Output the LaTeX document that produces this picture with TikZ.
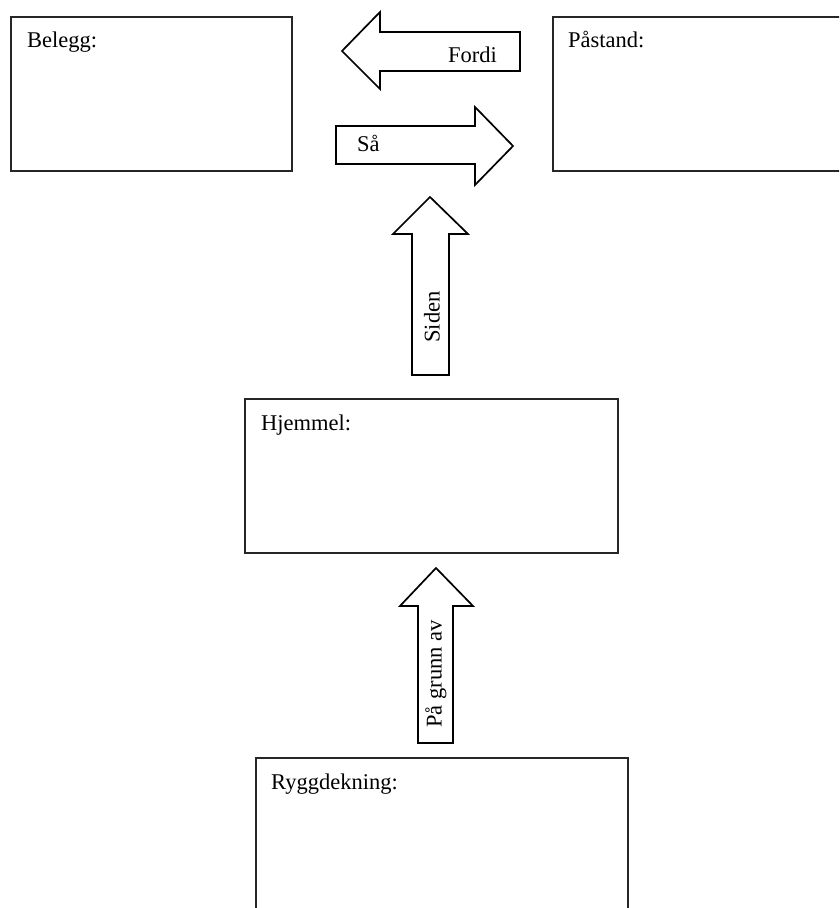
\documentclass[tikz,border=0pt]{standalone}
\usepackage{fontspec}
\setmainfont{Liberation Serif}
\begin{document}
\begin{tikzpicture}[x=1pt,y=-1pt,
  frame/.style={draw=black!85,line width=1.7pt,fill=white},
  blockarrow/.style={draw=black,line width=1.7pt,fill=white,line join=miter},
  label/.style={inner sep=0pt,font=\fontsize{22.5}{26}\selectfont},
  caption/.style={inner sep=0pt,font=\fontsize{22.5}{26}\selectfont}]
\useasboundingbox (0,0) rectangle (839,908);
\clip (0,0) rectangle (839,908);

% boxes
\draw[frame] (11,17) rectangle (292,171);
\draw[frame] (553,17) rectangle (860,171);
\draw[frame] (245,399) rectangle (618,553);
\draw[frame] (256,758) rectangle (628,930);

\node[label,anchor=base west] (belegg) at (27,47) {Belegg:};
\node[label,anchor=base west] (pastand) at (568,47) {Påstand:};
\node[label,anchor=base west] (hjemmel) at (261,430) {Hjemmel:};
\node[label,anchor=base west] (rygg) at (271,789) {Ryggdekning:};

% block arrows
\draw[blockarrow] (342,51) -- (380,12) -- (380,32) -- (520,32) -- (520,71)
  -- (380,71) -- (380,89) -- cycle;
\node[caption,anchor=base west] (fordi) at (448,62) {Fordi};

\draw[blockarrow] (513,146) -- (475,107) -- (475,126) -- (336,126) -- (336,164)
  -- (475,164) -- (475,185) -- cycle;
\node[caption,anchor=base west] (saa) at (357,151) {Så};

\draw[blockarrow] (430,197) -- (468,234) -- (449,234) -- (449,375) -- (412,375)
  -- (412,234) -- (393,234) -- cycle;
\node[caption,rotate=90] (siden) at (432,317) {Siden};

\draw[blockarrow] (436,568) -- (473,606) -- (453,606) -- (453,743) -- (418,743)
  -- (418,606) -- (400,606) -- cycle;
\node[caption,rotate=90] (grunn) at (436,674) {På grunn av};
\end{tikzpicture}
\end{document}
